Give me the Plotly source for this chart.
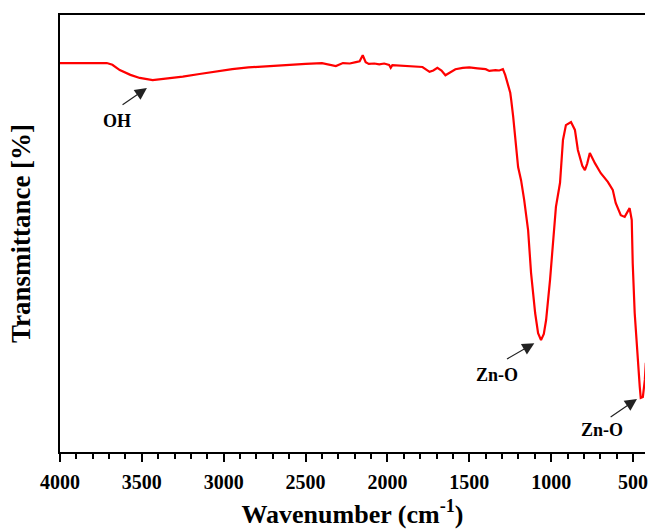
import plotly.graph_objects as go

wavenumber = [4000, 3900, 3800, 3714, 3680, 3635, 3570, 3513, 3434, 3349, 3250, 3148, 3050, 2948,
              2850, 2741, 2600, 2500, 2400, 2340, 2315, 2272, 2230, 2193, 2170, 2151, 2133, 2114,
              2080, 2050, 2020, 1990, 1980, 1970, 1900, 1850, 1800, 1786, 1743, 1720, 1695, 1670,
              1646, 1620, 1585, 1540, 1500, 1450, 1400, 1378, 1340, 1317, 1295, 1281, 1262, 1250,
              1244, 1232, 1202, 1184, 1165, 1141, 1123, 1098, 1080, 1062, 1045, 1031, 1007, 989,
              971, 946, 928, 910, 879, 855, 837, 810, 794, 780, 764, 733, 697, 654, 624, 606, 575,
              551, 521, 508, 502, 490, 472, 459, 453, 440, 428, 422]
transmittance = [89.0, 89.0, 89.0, 89.0, 88.6, 87.4, 86.3, 85.6, 85.1, 85.4, 85.9, 86.5, 87.1, 87.6,
                 88.0, 88.3, 88.6, 88.8, 89.0, 88.6, 88.3, 89.0, 88.9, 89.2, 89.4, 90.8, 89.2, 88.8,
                 88.9, 88.7, 88.9, 88.6, 87.9, 88.5, 88.4, 88.3, 88.2, 88.1, 87.0, 87.3, 87.9, 87.3,
                 86.2, 86.8, 87.6, 87.9, 88.0, 87.8, 87.6, 87.2, 87.4, 87.3, 87.6, 86.3, 84.0, 82.2,
                 80.5, 76.7, 65.2, 62.2, 57.7, 50.8, 41.0, 31.8, 27.2, 25.6, 27.0, 30.2, 39.4, 48.5,
                 56.1, 61.6, 71.4, 74.8, 75.5, 73.7, 69.1, 65.5, 64.5, 66.0, 68.4, 66.1, 63.8, 61.8,
                 60.0, 57.0, 54.2, 53.8, 55.8, 53.1, 43.2, 31.8, 20.4, 14.9, 12.4, 12.6, 16.5, 20.4]

tick_vals = [4000, 3500, 3000, 2500, 2000, 1500, 1000, 500]
tick_text = ["4000", "3500", "3000", "2500", "2000", "1500", "1000", "500"]

# annotation labels and their arrows (text position, arrow tail, arrow tip)
labels = ["OH", "Zn-O", "Zn-O"]
label_x = [3651, 1328, 688]
label_y = [75.7, 17.6, 5.0]
tail_x = [3627, 1279, 646]
tail_y = [79.2, 21.1, 7.8]
tip_x = [3469, 1103, 476]
tip_y = [83.3, 24.9, 12.1]

FONT = "Liberation Serif"

fig = go.Figure()
fig.add_trace(go.Scatter(x=wavenumber, y=transmittance, mode="lines",
                         line=dict(color="#ff0000", width=2.2), showlegend=False))

for t, lx, ly, ax_, ay_, px, py in zip(labels, label_x, label_y, tail_x, tail_y, tip_x, tip_y):
    fig.add_annotation(x=lx, y=ly, xref="x", yref="y", text=t, showarrow=False,
                       font=dict(family=FONT, size=18, color="black", weight="bold"))
    fig.add_annotation(x=px, y=py, xref="x", yref="y", ax=ax_, ay=ay_, axref="x", ayref="y",
                       text="", showarrow=True, arrowhead=2, arrowsize=2.0, arrowwidth=1.2,
                       arrowcolor="#222222", standoff=0, startstandoff=0)

fig.update_layout(
    width=648, height=529,
    margin=dict(l=60, r=0, t=15, b=77),
    paper_bgcolor="white", plot_bgcolor="white",
    font=dict(family=FONT, color="black"),
    xaxis=dict(range=[4000, 427], showline=True, linecolor="black", linewidth=2, mirror=True,
               showgrid=False, zeroline=False, ticks="outside", ticklen=8, tickwidth=2,
               tickcolor="black", tickvals=tick_vals, ticktext=tick_text,
               ticklabeloverflow="allow", ticklabelstandoff=3,
               tickfont=dict(family=FONT, size=20, color="black", weight="bold"),
               minor=dict(dtick=100, tick0=0, ticks="outside", ticklen=5, tickwidth=1.5,
                          tickcolor="black", showgrid=False),
               title=dict(text="Wavenumber (cm<sup>-1</sup>)", standoff=14,
                          font=dict(family=FONT, size=26, color="black", weight="bold"))),
    yaxis=dict(range=[0, 100], showline=True, linecolor="black", linewidth=2, mirror=False,
               showgrid=False, zeroline=False, showticklabels=False, ticks="",
               title=dict(text="Transmittance [%]", standoff=20,
                          font=dict(family=FONT, size=27, color="black", weight="bold"))),
)

fig.write_html("out.html", config={"displayModeBar": False},
               post_script="document.body.style.margin='0';document.body.style.overflow='hidden';")
